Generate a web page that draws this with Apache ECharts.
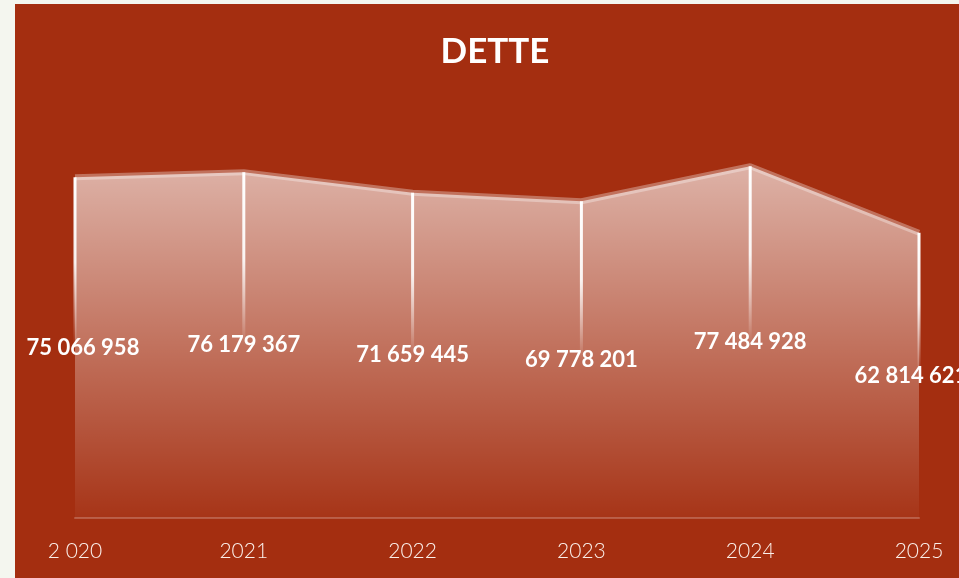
<!DOCTYPE html>
<html>
<head>
<meta charset="utf-8">
<title>Dette</title>
<script src="https://cdn.jsdelivr.net/npm/echarts@6/dist/echarts.min.js"></script>
<style>
  html, body { margin: 0; padding: 0; background: #f4f6ef; }
  /* carte rouge décalée comme dans la diapo */
  #chart { position: absolute; left: 15px; top: 4px; width: 944px; height: 574px; }
</style>
</head>
<body>
<div id="chart"></div>
<script>
  // données
  const years = ['2 020', '2021', '2022', '2023', '2024', '2025'];
  const dette = [75066958, 76179367, 71659445, 69778201, 77484928, 62814621];

  const fmt = v => String(v).replace(/\B(?=(\d{3})+(?!\d))/g, ' ');

  const chart = echarts.init(document.getElementById('chart'));

  // étiquettes des extrémités un peu rentrées
  const barData = dette.map((v, i) => {
    let item = { value: v };
    if (i === 0) item.label = { offset: [8, 0] };
    if (i === dette.length - 1) item.label = { offset: [-8, 0] };
    return item;
  });

  chart.setOption({
    backgroundColor: '#a42e10',
    animation: false,
    graphic: [{
      type: 'text',
      x: 480,
      y: 48,
      style: {
        text: 'DETTE',
        fill: '#fff',
        font: 'bold 35px Lato',
        align: 'center',
        verticalAlign: 'middle'
      }
    }],
    grid: { left: 60, right: 40, top: 60, bottom: 60 },
    xAxis: {
      type: 'category',
      data: years,
      boundaryGap: false,
      axisLine: { lineStyle: { color: 'rgba(255,255,255,0.22)', width: 2 } },
      axisTick: { show: false },
      axisLabel: { color: '#fbefea', fontSize: 21, fontFamily: 'Lato', fontWeight: 300, margin: 23 }
    },
    yAxis: {
      type: 'value',
      min: 0,
      max: 100000000,
      show: false,
      splitLine: { show: false }
    },
    series: [
      {
        name: 'Dette',
        type: 'line',
        data: dette,
        symbol: 'none',
        lineStyle: { color: 'rgba(255,255,255,0.32)', width: 6 },
        areaStyle: {
          opacity: 1,
          color: new echarts.graphic.LinearGradient(0, 0, 0, 1, [
            { offset: 0, color: 'rgba(255,255,255,0.63)' },
            { offset: 1, color: 'rgba(255,255,255,0.03)' }
          ])
        },
        z: 2
      },
      {
        name: 'Dette',
        type: 'bar',
        data: barData,
        barWidth: 3,
        itemStyle: {
          color: new echarts.graphic.LinearGradient(0, 0, 0, 1, [
            { offset: 0, color: 'rgba(255,255,255,1)' },
            { offset: 0.25, color: 'rgba(255,255,255,0.9)' },
            { offset: 0.5, color: 'rgba(255,255,255,0)' },
            { offset: 1, color: 'rgba(255,255,255,0)' }
          ])
        },
        label: {
          show: true,
          position: 'inside',
          color: '#fff',
          fontSize: 22,
          fontWeight: 'bold',
          fontFamily: 'Lato',
          formatter: p => fmt(p.value)
        },
        z: 3
      }
    ]
  });
</script>
</body>
</html>
